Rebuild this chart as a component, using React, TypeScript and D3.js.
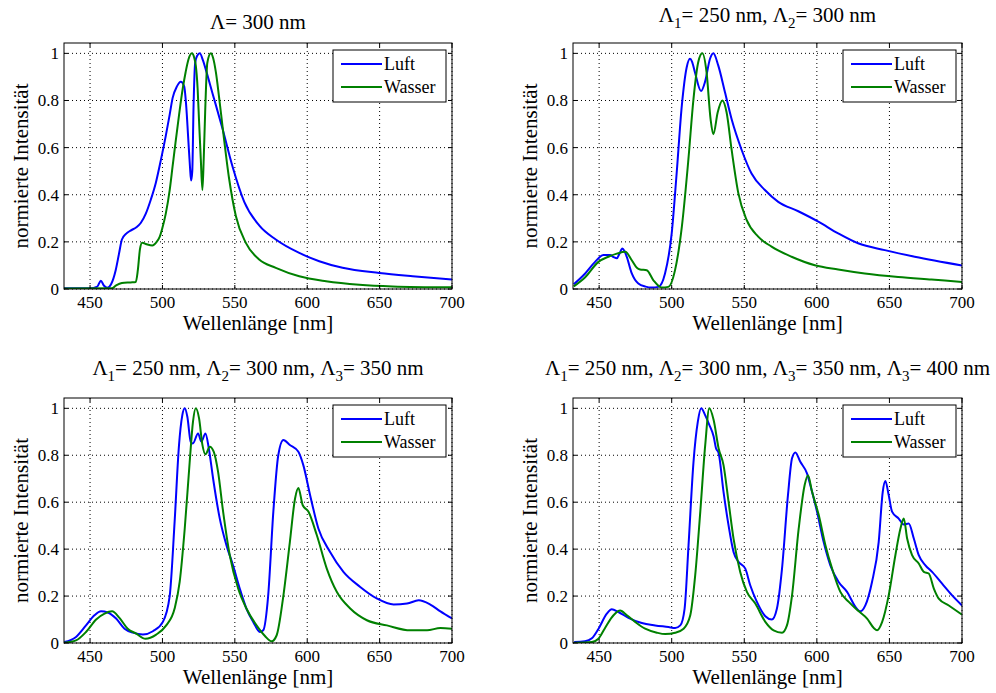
import React from "react";
import * as d3 from "d3";

type Pt = [number, number];
type Seg = { t: string; sub?: boolean };

const xTicks = [450, 500, 550, 600, 650, 700];
const yTicks = [0, 0.2, 0.4, 0.6, 0.8, 1];
const yTickLabels = ["0", "0.2", "0.4", "0.6", "0.8", "1"];
const seriesNames = ["Luft", "Wasser"];
const seriesColors = ["#0000ff", "#008000"];
const xLabel = "Wellenlänge [nm]";
const yLabel = "normierte Intensität";

const title1: Seg[] = [{ t: "Λ= 300 nm" }];
const title2: Seg[] = [{ t: "Λ" }, { t: "1", sub: true }, { t: "= 250 nm, Λ" }, { t: "2", sub: true }, { t: "= 300 nm" }];
const title3: Seg[] = [{ t: "Λ" }, { t: "1", sub: true }, { t: "= 250 nm, Λ" }, { t: "2", sub: true }, { t: "= 300 nm, Λ" }, { t: "3", sub: true }, { t: "= 350 nm" }];
const title4: Seg[] = [{ t: "Λ" }, { t: "1", sub: true }, { t: "= 250 nm, Λ" }, { t: "2", sub: true }, { t: "= 300 nm, Λ" }, { t: "3", sub: true }, { t: "= 350 nm, Λ" }, { t: "3", sub: true }, { t: "= 400 nm" }];

const p1Luft: Pt[] = [[432,0.003],[450,0.003],[455,0.01],[457.4,0.035],[459.5,0.015],[462,0.005],[464.5,0.02],[467.7,0.08],[470,0.15],[472,0.21],[475,0.235],[478,0.248],[482,0.262],[485,0.28],[488.5,0.32],[492,0.38],[495.4,0.45],[499,0.55],[502.3,0.65],[505,0.74],[507,0.81],[510,0.86],[512.7,0.88],[515,0.86],[516.5,0.77],[517.7,0.65],[519,0.52],[519.8,0.46],[520.6,0.5],[521.5,0.78],[522.6,0.96],[524,0.99],[525.8,1.0],[528,0.97],[530,0.93],[534.6,0.83],[541.5,0.68],[548.4,0.52],[556.5,0.37],[566.8,0.27],[578.3,0.21],[594.5,0.153],[608.3,0.118],[624.4,0.09],[649.8,0.068],[672.8,0.054],[700,0.04]];
const p1Wasser: Pt[] = [[432,0.002],[465,0.003],[468,0.015],[472,0.025],[478,0.028],[481.6,0.03],[483,0.08],[484.5,0.17],[486,0.196],[489,0.19],[493,0.185],[496,0.2],[498,0.22],[500,0.26],[502.3,0.32],[505,0.42],[507,0.52],[509,0.62],[511.5,0.74],[514,0.85],[516,0.92],[518,0.975],[520.3,1.0],[522,0.98],[523,0.95],[524.3,0.85],[525.3,0.71],[526.5,0.55],[527.6,0.42],[528.5,0.55],[529.5,0.75],[531,0.96],[533.4,1.0],[535,0.98],[536.9,0.92],[539,0.82],[541.5,0.69],[546,0.47],[550.7,0.31],[557.6,0.196],[566.8,0.125],[578.3,0.09],[594.5,0.054],[613,0.033],[636,0.018],[659,0.011],[700,0.007]];

const p2Luft: Pt[] = [[432.5,0.02],[440.4,0.066],[447.2,0.115],[453,0.144],[457.6,0.144],[460,0.135],[462.2,0.13],[464,0.15],[466,0.172],[467.5,0.16],[469,0.137],[472.5,0.066],[477,0.023],[482,0.01],[486.2,0.006],[490.8,0.009],[495.4,0.066],[500,0.236],[503.4,0.49],[507,0.78],[510.3,0.94],[512.6,0.977],[514,0.965],[516,0.92],[520.2,0.84],[523,0.88],[526.4,0.977],[528.7,1.0],[532,0.95],[536.7,0.835],[541.3,0.72],[548.2,0.59],[555,0.49],[564.2,0.42],[573.4,0.37],[587.2,0.33],[601,0.286],[614.7,0.236],[628.4,0.194],[646.8,0.165],[667.4,0.137],[700,0.1]];
const p2Wasser: Pt[] = [[432.5,0.011],[440.4,0.05],[449.5,0.115],[456.4,0.137],[462.2,0.15],[468,0.158],[472.5,0.122],[476,0.09],[478.2,0.083],[482.8,0.08],[487.4,0.037],[493.1,0.006],[497.7,0.009],[502.3,0.08],[507,0.265],[511.5,0.55],[515,0.806],[518.3,0.963],[521.1,1.0],[524,0.92],[526.8,0.72],[528.7,0.657],[531.7,0.75],[534.9,0.8],[537.8,0.75],[541.3,0.59],[545.9,0.407],[551.6,0.293],[559.6,0.222],[568.8,0.18],[582.6,0.137],[598.6,0.101],[614.7,0.083],[633,0.066],[656,0.051],[679,0.04],[700,0.03]];

const p3Luft: Pt[] = [[432.2,0.004],[440.3,0.026],[447.2,0.075],[453,0.118],[457.6,0.135],[462.2,0.13],[468,0.104],[473.8,0.061],[479.6,0.044],[486.5,0.036],[493.4,0.05],[500.3,0.09],[505,0.2],[508.4,0.516],[511.4,0.84],[513.7,0.97],[515.4,1.0],[517.2,0.964],[519.5,0.858],[521,0.85],[524.6,0.893],[526.9,0.858],[529.7,0.893],[532,0.83],[535,0.7],[539.6,0.53],[544.2,0.417],[548.8,0.33],[553.5,0.23],[558,0.147],[562.7,0.09],[567.3,0.047],[569.6,0.054],[573,0.2],[576.6,0.56],[580,0.8],[583.5,0.865],[588,0.844],[593.9,0.815],[597.3,0.758],[602,0.63],[607.7,0.488],[615.8,0.388],[625,0.303],[636.6,0.239],[648,0.19],[659.7,0.164],[669,0.168],[677,0.182],[685,0.164],[692,0.135],[700,0.105]];
const p3Wasser: Pt[] = [[432.2,0.001],[440.3,0.011],[447.2,0.047],[454.2,0.1],[460,0.125],[465.2,0.135],[470.3,0.107],[476,0.061],[481.9,0.04],[488.3,0.018],[495.7,0.036],[502.6,0.075],[508.4,0.147],[511.9,0.26],[515.4,0.488],[518.8,0.77],[521.1,0.943],[523,1.0],[525.3,0.957],[527.6,0.844],[529.7,0.804],[532.7,0.836],[535.4,0.815],[538.4,0.73],[541.9,0.56],[546.5,0.374],[552.3,0.232],[558,0.147],[565,0.075],[570.8,0.03],[575.4,0.007],[578.9,0.033],[583.5,0.2],[588,0.43],[591.6,0.616],[593.9,0.66],[596.9,0.587],[600.8,0.56],[606.6,0.46],[613.5,0.317],[620.4,0.218],[629.7,0.147],[641.2,0.097],[655,0.075],[671.2,0.054],[682.8,0.054],[692,0.064],[700,0.061]];

const p4Luft: Pt[] = [[432.8,0.004],[440.3,0.007],[445,0.02],[449.5,0.06],[455.3,0.125],[458.7,0.144],[463.3,0.132],[470.2,0.107],[479.4,0.085],[488.6,0.075],[497.8,0.068],[502.4,0.064],[505.9,0.075],[508.9,0.147],[511.6,0.417],[515,0.77],[518,0.943],[520.3,1.0],[523.1,0.97],[525.9,0.93],[528.9,0.88],[530.5,0.83],[532.3,0.81],[535.7,0.644],[539.2,0.5],[542.6,0.388],[546,0.346],[550.7,0.317],[554.1,0.246],[558.7,0.175],[564.5,0.114],[569,0.1],[572.5,0.147],[576,0.317],[580.1,0.63],[582.9,0.787],[585.2,0.812],[588.6,0.772],[593.2,0.723],[596.7,0.644],[600.1,0.56],[604.7,0.43],[609.3,0.331],[615,0.26],[620.8,0.218],[626.6,0.154],[630,0.135],[633.4,0.16],[638,0.26],[642.6,0.43],[645.4,0.644],[647.2,0.69],[649.5,0.63],[651.8,0.56],[656.4,0.53],[659.9,0.505],[663.3,0.509],[666.8,0.445],[670.2,0.374],[674.8,0.331],[679.4,0.303],[686.3,0.253],[693.2,0.203],[700,0.16]];
const p4Wasser: Pt[] = [[432.8,0.001],[445,0.004],[449.5,0.018],[453.8,0.061],[459.9,0.118],[464.5,0.138],[469.1,0.118],[474.8,0.09],[481.7,0.061],[489.8,0.044],[495.5,0.038],[502.4,0.044],[508.2,0.061],[512.8,0.118],[516.2,0.289],[519.7,0.56],[523.1,0.844],[525.9,1.0],[528.9,0.95],[532.3,0.83],[535.7,0.758],[539.2,0.6],[542.6,0.445],[547.2,0.303],[551.8,0.218],[557.6,0.168],[564.5,0.09],[570.2,0.054],[576,0.044],[579.4,0.075],[582.9,0.203],[587.5,0.488],[591.6,0.673],[593.9,0.715],[596.7,0.644],[601.3,0.545],[605.9,0.417],[610.5,0.317],[616.2,0.218],[622,0.175],[628.9,0.135],[634.6,0.104],[639.2,0.064],[641.5,0.054],[645,0.09],[649.5,0.203],[654.1,0.374],[657.6,0.488],[659.9,0.53],[662.2,0.445],[665.6,0.374],[670.2,0.339],[673.7,0.303],[677.1,0.296],[680.6,0.232],[684,0.189],[690.9,0.16],[700,0.121]];

const FONT = "Liberation Serif, DejaVu Serif, serif";

function Title({ segs, x, y }: { segs: Seg[]; x: number; y: number }) {
  const parts: React.ReactNode[] = [];
  let down = false;
  segs.forEach((s, i) => {
    if (s.sub) {
      parts.push(<tspan key={i} dy={6} fontSize={15}>{s.t}</tspan>);
      down = true;
    } else {
      parts.push(<tspan key={i} dy={down ? -6 : 0} fontSize={21}>{s.t}</tspan>);
      down = false;
    }
  });
  return (
    <text x={x} y={y} textAnchor="middle" style={{ fontFamily: FONT }} fill="#000">{parts}</text>
  );
}

function Panel(props: { id: string; left: number; top: number; right: number; bottom: number; luft: Pt[]; wasser: Pt[]; title: Seg[]; titleY: number }) {
  const { id, left, top, right, bottom, luft, wasser, title, titleY } = props;
  const x = d3.scaleLinear().domain([432, 700]).range([left, right]);
  const y = d3.scaleLinear().domain([0, 1.044]).range([bottom, top]);
  const line = d3.line<Pt>().x((d) => x(d[0])).y((d) => y(d[1])).curve(d3.curveMonotoneX);
  const series = [luft, wasser];
  const lgL = right - 119, lgT = top + 7, lgW = 113, lgH = 52;
  const tick = 4;
  return (
    <g style={{ fontFamily: FONT }}>
      <defs>
        <clipPath id={id}><rect x={left} y={top} width={right - left} height={bottom - top} /></clipPath>
      </defs>
      <rect x={left} y={top} width={right - left} height={bottom - top} fill="#fff" />
      {xTicks.map((t) => (
        <line key={"gx" + t} x1={x(t)} x2={x(t)} y1={top} y2={bottom} stroke="#000" strokeWidth={1} strokeDasharray="1,3" />
      ))}
      {yTicks.map((t) => (
        <line key={"gy" + t} x1={left} x2={right} y1={y(t)} y2={y(t)} stroke="#000" strokeWidth={1} strokeDasharray="1,3" />
      ))}
      <g clipPath={`url(#${id})`}>
        {series.map((s, i) => (
          <path key={i} d={line(s) || ""} fill="none" stroke={seriesColors[i]} strokeWidth={2} strokeLinejoin="round" />
        ))}
      </g>
      <rect x={left} y={top} width={right - left} height={bottom - top} fill="none" stroke="#000" strokeWidth={1} />
      {xTicks.map((t) => (
        <g key={"tx" + t}>
          <line x1={x(t)} x2={x(t)} y1={bottom} y2={bottom - tick} stroke="#000" />
          <line x1={x(t)} x2={x(t)} y1={top} y2={top + tick} stroke="#000" />
          <text x={x(t)} y={bottom + 19} textAnchor="middle" fontSize={17}>{t}</text>
        </g>
      ))}
      {yTicks.map((t, i) => (
        <g key={"ty" + t}>
          <line x1={left} x2={left + tick} y1={y(t)} y2={y(t)} stroke="#000" />
          <line x1={right} x2={right - tick} y1={y(t)} y2={y(t)} stroke="#000" />
          <text x={left - 5} y={y(t) + 6} textAnchor="end" fontSize={17}>{yTickLabels[i]}</text>
        </g>
      ))}
      <text x={(left + right) / 2} y={bottom + 41} textAnchor="middle" fontSize={21}>{xLabel}</text>
      <text transform={`translate(${left - 36},${(top + bottom) / 2}) rotate(-90)`} textAnchor="middle" fontSize={21}>{yLabel}</text>
      <Title segs={title} x={(left + right) / 2} y={titleY} />
      <rect x={lgL} y={lgT} width={lgW} height={lgH} fill="#fff" stroke="#000" strokeWidth={1} />
      {seriesNames.map((n, i) => (
        <g key={n}>
          <line x1={lgL + 8} x2={lgL + 49} y1={lgT + 14 + i * 23} y2={lgT + 14 + i * 23} stroke={seriesColors[i]} strokeWidth={2} />
          <text x={lgL + 51} y={lgT + 14 + i * 23 + 6} fontSize={18}>{n}</text>
        </g>
      ))}
    </g>
  );
}

export default function App() {
  return (
    <svg width={996} height={693} style={{ position: "absolute", left: 0, top: 0, background: "#fff" }}>
      <rect width={996} height={693} fill="#fff" />
      <Panel id="c1" left={64} top={43} right={452} bottom={289} luft={p1Luft} wasser={p1Wasser} title={title1} titleY={29} />
      <Panel id="c2" left={573} top={43} right={962} bottom={289} luft={p2Luft} wasser={p2Wasser} title={title2} titleY={22} />
      <Panel id="c3" left={64} top={398} right={452} bottom={643} luft={p3Luft} wasser={p3Wasser} title={title3} titleY={375} />
      <Panel id="c4" left={573} top={398} right={962} bottom={643} luft={p4Luft} wasser={p4Wasser} title={title4} titleY={375} />
    </svg>
  );
}
